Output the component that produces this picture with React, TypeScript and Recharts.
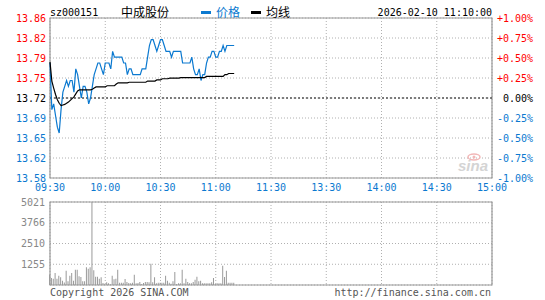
import React from 'react';
import {
  ComposedChart, Line, Bar, XAxis, YAxis, CartesianGrid, ReferenceLine, ReferenceArea,
} from 'recharts';

const stockCode = 'sz000151';
const stockName = '中成股份';
const legendPrice = '价格';
const legendAvg = '均线';
const timestamp = '2026-02-10 11:10:00';
const prevClose = 13.72;
const pctTicks = [-1, -0.75, -0.5, -0.25, 0, 0.25, 0.5, 0.75, 1];
const timeTicks = [0, 30, 60, 90, 120, 150, 180, 210, 240];
const timeLabels = ['09:30', '10:00', '10:30', '11:00', '11:30', '13:30', '14:00', '14:30', '15:00'];
const volTicks = [0, 1255, 2510, 3766, 5021];

const price = [
  13.78, 13.70, 13.71, 13.69, 13.67, 13.66, 13.70, 13.73, 13.74, 13.75,
  13.74, 13.75, 13.75, 13.73, 13.77, 13.76, 13.74, 13.72, 13.74, 13.74,
  13.73, 13.71, 13.72, 13.74, 13.76, 13.77, 13.78, 13.78, 13.77, 13.76,
  13.78, 13.78, 13.78, 13.77, 13.80, 13.79, 13.79, 13.79, 13.79, 13.79,
  13.78, 13.78, 13.76, 13.77, 13.77, 13.76, 13.76, 13.76, 13.76, 13.76,
  13.77, 13.77, 13.77, 13.79, 13.81, 13.82, 13.82, 13.81, 13.80, 13.81,
  13.82, 13.82, 13.81, 13.80, 13.80, 13.80, 13.79, 13.80, 13.80, 13.80,
  13.80, 13.80, 13.78, 13.78, 13.78, 13.78, 13.78, 13.79, 13.77, 13.76,
  13.76, 13.77, 13.75, 13.76, 13.76, 13.78, 13.79, 13.79, 13.80, 13.80,
  13.79, 13.79, 13.80, 13.80, 13.81, 13.80, 13.81, 13.81, 13.81, 13.81,
  13.81,
];

const avgPrice = [
  13.782, 13.749, 13.737, 13.726, 13.717, 13.711, 13.707, 13.708, 13.709, 13.711,
  13.713, 13.716, 13.719, 13.722, 13.727, 13.732, 13.734, 13.734, 13.734, 13.734,
  13.734, 13.734, 13.734, 13.735, 13.737, 13.739, 13.739, 13.739, 13.739, 13.739,
  13.739, 13.741, 13.741, 13.741, 13.741, 13.741, 13.744, 13.746, 13.746, 13.746,
  13.746, 13.746, 13.746, 13.747, 13.747, 13.747, 13.747, 13.747, 13.747, 13.747,
  13.747, 13.747, 13.747, 13.749, 13.749, 13.749, 13.749, 13.749, 13.751, 13.751,
  13.751, 13.753, 13.753, 13.753, 13.753, 13.754, 13.754, 13.754, 13.754, 13.754,
  13.754, 13.755, 13.755, 13.755, 13.755, 13.755, 13.755, 13.755, 13.755, 13.755,
  13.755, 13.755, 13.755, 13.755, 13.755, 13.757, 13.757, 13.757, 13.757, 13.757,
  13.757, 13.757, 13.757, 13.757, 13.757, 13.760, 13.760, 13.762, 13.762, 13.762,
  13.762,
];

const volume = [
  626, 424, 384, 727, 384, 566, 465, 263, 150, 869,
  222, 566, 727, 263, 929, 929, 525, 485, 222, 222,
  1071, 990, 1071, 5021, 889, 505, 505, 384, 465, 121,
  60, 162, 101, 50, 566, 343, 384, 929, 141, 141,
  141, 364, 182, 121, 101, 141, 626, 101, 121, 182,
  60, 121, 182, 182, 162, 1290, 162, 465, 101, 141,
  141, 141, 141, 566, 263, 141, 80, 222, 788, 60,
  101, 101, 929, 101, 384, 182, 101, 101, 182, 323,
  505, 222, 263, 101, 101, 101, 101, 101, 162, 424,
  60, 101, 101, 101, 1172, 485, 869, 141, 141, 141,
  141,
];

const data = price.map((p, i) => ({ m: i, price: p, avg: avgPrice[i], vol: volume[i] }));
const priceTicks = pctTicks.map((p) => +(prevClose * (1 + p / 100)).toFixed(4));
const priceDomain = [priceTicks[0], priceTicks[priceTicks.length - 1]];

const BLUE = '#0b79d0';
const RED = '#ff0000';
const MONO = '"DejaVu Sans Mono", "Liberation Mono", monospace';
const CJK = '"Noto Sans CJK SC", sans-serif';

const colorFor = (v: number) =>
  v > prevClose + 1e-6 ? RED : v < prevClose - 1e-6 ? BLUE : '#000';

const LeftTick = (props: any) => {
  const { x, y, payload } = props;
  const v = payload.value as number;
  return (
    <text x={x} y={y} dy="0.355em" textAnchor="end" fill={colorFor(v)} fontSize={10} fontFamily={MONO}>
      {v.toFixed(2)}
    </text>
  );
};

const RightTick = (props: any) => {
  const { x, y, payload } = props;
  const v = payload.value as number;
  const pct = (v / prevClose - 1) * 100;
  const r = Math.round(pct * 100) / 100;
  const label = r > 0 ? `+${r.toFixed(2)}%` : `${r.toFixed(2)}%`;
  return (
    <text x={x + 38} y={y} dy="0.355em" textAnchor="end" fill={colorFor(v)} fontSize={10} fontFamily={MONO}>
      {label}
    </text>
  );
};

const TimeTick = (props: any) => {
  const { x, y, payload } = props;
  const idx = timeTicks.indexOf(payload.value);
  return (
    <text x={x} y={y} dy="0.71em" textAnchor="middle" fill={BLUE} fontSize={10} fontFamily={MONO}>
      {timeLabels[idx]}
    </text>
  );
};

const VolTick = (props: any) => {
  const { x, y, payload } = props;
  const v = payload.value as number;
  if (v === 0) return null;
  return (
    <text x={x - 1} y={y} dy="0.355em" textAnchor="end" fill="#888" fontSize={10} fontFamily={MONO}>
      {v}
    </text>
  );
};

export default function App() {
  return (
    <div style={{ position: 'fixed', left: 0, top: 0, width: 545, height: 300, background: '#fff' }}>
      <div style={{ position: 'absolute', left: 0, top: 0 }}>
        <ComposedChart width={545} height={200} data={data} margin={{ top: 18, right: 0, bottom: 0, left: 0 }} style={{ overflow: 'visible' }}>
          <CartesianGrid stroke="#b0b0b0" strokeDasharray="1 2" yAxisId="left" />
          <XAxis
            dataKey="m" type="number" domain={[0, 240]} ticks={timeTicks} height={22}
            axisLine={false} tickLine={false} tickSize={0} tickMargin={6} tick={<TimeTick />} interval={0}
          />
          <YAxis
            yAxisId="left" orientation="left" width={50} domain={priceDomain} ticks={priceTicks}
            axisLine={false} tickLine={false} tickSize={0} tickMargin={4} tick={<LeftTick />} interval={0}
            allowDataOverflow
          />
          <YAxis
            yAxisId="right" orientation="right" width={53} domain={priceDomain} ticks={priceTicks}
            axisLine={false} tickLine={false} tickSize={0} tickMargin={3} tick={<RightTick />} interval={0}
            allowDataOverflow
          />
          <ReferenceLine yAxisId="left" y={prevClose} stroke="#fff" strokeWidth={1} />
          <ReferenceLine yAxisId="left" y={prevClose} stroke="#000" strokeWidth={1} strokeDasharray="2 2" />
          <ReferenceArea
            yAxisId="left" x1={0} x2={240} y1={priceDomain[0]} y2={priceDomain[1]}
            fill="none" stroke="#999" strokeWidth={1.2} fillOpacity={0}
          />
          <Line yAxisId="left" dataKey="price" type="linear" stroke={BLUE} strokeWidth={1.2} dot={false} isAnimationActive={false} />
          <Line yAxisId="left" dataKey="avg" type="linear" stroke="#000" strokeWidth={1.2} dot={false} isAnimationActive={false} />
        </ComposedChart>
      </div>
      <div style={{ position: 'absolute', left: 0, top: 190 }}>
        <ComposedChart width={545} height={110} data={data} margin={{ top: 12, right: 53, bottom: 15, left: 0 }}>
          <CartesianGrid stroke="#b0b0b0" strokeDasharray="1 2" />
          <XAxis dataKey="m" type="number" domain={[0, 240]} ticks={timeTicks} hide />
          <YAxis
            width={50} domain={[0, volTicks[volTicks.length - 1]]} ticks={volTicks}
            axisLine={false} tickLine={false} tickSize={0} tickMargin={4} tick={<VolTick />} interval={0}
          />
          <ReferenceArea
            x1={0} x2={240} y1={0} y2={volTicks[volTicks.length - 1]}
            fill="none" stroke="#999" strokeWidth={1.2} fillOpacity={0}
          />
          <Bar dataKey="vol" fill="#999" barSize={1} isAnimationActive={false} />
        </ComposedChart>
      </div>
      <svg width={545} height={300} style={{ position: 'absolute', left: 0, top: 0, pointerEvents: 'none' }}>
        <text x={50} y={16} fontSize={10} fontFamily={MONO} fill="#000">{stockCode}</text>
        <text x={121} y={17} fontSize={12} fontFamily={CJK} fill="#000">{stockName}</text>
        <rect x={201} y={11} width={10} height={3} fill={BLUE} />
        <text x={216} y={17} fontSize={12} fontFamily={CJK} fill={BLUE}>{legendPrice}</text>
        <rect x={251} y={11} width={10} height={3} fill="#000" />
        <text x={266} y={17} fontSize={12} fontFamily={CJK} fill="#000">{legendAvg}</text>
        <text x={492} y={16} textAnchor="end" fontSize={10} fontFamily={MONO} fill="#000">{timestamp}</text>
        <ellipse cx={474} cy={157} rx={6} ry={3} fill="none" stroke="#f2b8b8" strokeWidth={1.5} />
        <circle cx={474} cy={157} r={1.5} fill="#f2b8b8" />
        <text x={458} y={171} fontSize={15} fontWeight="bold" fontStyle="italic" fontFamily="Arial, Liberation Sans, sans-serif" fill="#d4d4d4">sina</text>
        <text x={50} y={296} fontSize={10} fontFamily={MONO} fill="#555">Copyright 2026 SINA.COM</text>
        <text x={491} y={296} textAnchor="end" fontSize={10} fontFamily={MONO} fill="#555">http://finance.sina.com.cn</text>
      </svg>
    </div>
  );
}
